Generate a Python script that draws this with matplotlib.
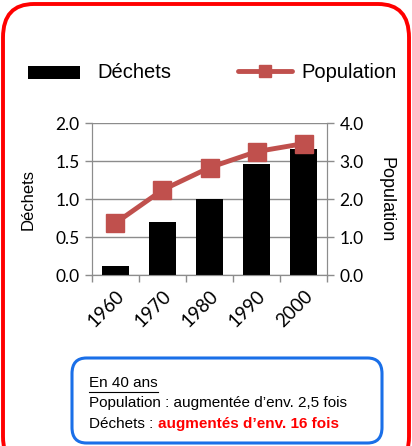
import matplotlib.pyplot as plt
from matplotlib.patches import FancyBboxPatch, Rectangle
from matplotlib.lines import Line2D

years = ['1960', '1970', '1980', '1990', '2000']
dechets = [0.12, 0.70, 1.00, 1.46, 1.66]
population = [1.37, 2.24, 2.83, 3.25, 3.46]

grey = '#8c8c8c'
red = '#c0504d'

W, H = 412, 446
fig = plt.figure(figsize=(W / 100, H / 100), dpi=100)

def fx(px):
    return px / W

def fy(py):
    return 1 - py / H

# red rounded frame (bottom runs off the picture)
fig.patches.append(FancyBboxPatch((fx(3), fy(470)), fx(406), 466 / H, transform=fig.transFigure,
                                  boxstyle='round,pad=0,rounding_size=0.075',
                                  fc='none', ec='red', lw=2.8, clip_on=False))

ax = fig.add_axes([0.223, 0.383, 0.571, 0.341])
x = range(len(years))
ax.bar(x, dechets, width=0.58, color='black', zorder=3)
ax.set_xlim(-0.5, 4.5)
ax.set_ylim(0, 2.0)
ax.set_yticks([0, 0.5, 1.0, 1.5, 2.0])
ax.set_yticklabels(['0.0', '0.5', '1.0', '1.5', '2.0'], fontfamily='Lato', fontsize=12.5)
ax.grid(axis='y', color=grey, lw=1, zorder=0)
ax.set_xticks(list(x))
ax.set_xticklabels(years, rotation=45, ha='right', va='top', rotation_mode='anchor',
                   fontfamily='Lato', fontsize=13.5)
ax.set_xticks([-0.5, 0.5, 1.5, 2.5, 3.5, 4.5], minor=True)
ax.tick_params(axis='x', which='major', length=0, pad=9)
ax.tick_params(axis='x', which='minor', length=5, color=grey, width=1)
ax.tick_params(axis='y', length=5, color=grey, width=1, pad=4)
for s in ax.spines.values():
    s.set_color(grey)
ax.spines['top'].set_visible(False)
ax.set_ylabel('Déchets', fontfamily='Liberation Sans', fontsize=12, labelpad=14)

ax2 = ax.twinx()
ax2.plot(list(x), population, color=red, lw=3.5, marker='s', markersize=13, zorder=4)
ax2.set_ylim(0, 4.0)
ax2.set_yticks([0, 1, 2, 3, 4])
ax2.set_yticklabels(['0.0', '1.0', '2.0', '3.0', '4.0'], fontfamily='Lato', fontsize=12.5)
ax2.tick_params(axis='y', length=5, color=grey, width=1, pad=4)
for s in ax2.spines.values():
    s.set_color(grey)
ax2.spines['top'].set_visible(False)
ax2.set_ylabel('Population', fontfamily='Liberation Sans', fontsize=13, rotation=270, labelpad=22)

# legend
fig.patches.append(Rectangle((fx(28), fy(79)), 52 / W, 13 / H,
                             transform=fig.transFigure, fc='black', ec='none'))
fig.text(fx(97), fy(72), 'Déchets', fontfamily='Liberation Sans', fontsize=14.5, va='center')
fig.lines.append(Line2D([fx(238), fx(265), fx(292)], [fy(71)] * 3,
                        transform=fig.transFigure, color=red, lw=3.5, marker='s',
                        markersize=9, markevery=[1], solid_capstyle='round'))
fig.text(fx(301), fy(72), 'Population', fontfamily='Liberation Sans', fontsize=14.5, va='center')

# blue note box
fig.patches.append(FancyBboxPatch((fx(72), fy(443)), 310 / W, 85 / H,
                                  transform=fig.transFigure,
                                  boxstyle='round,pad=0,rounding_size=0.035',
                                  fc='white', ec='#1a6fe8', lw=2.2))
fs = 11
r = fig.canvas.get_renderer()
t0 = fig.text(fx(89), fy(383), 'En 40 ans', fontfamily='Liberation Sans', fontsize=fs, va='center')
b0 = t0.get_window_extent(renderer=r)
fig.lines.append(Line2D([fx(89), b0.x1 / W], [fy(392)] * 2,
                        transform=fig.transFigure, color='black', lw=0.8))
fig.text(fx(89), fy(403), 'Population : augmentée d\u2019env. 2,5 fois',
         fontfamily='Liberation Sans', fontsize=fs, va='center')
t = fig.text(fx(89), fy(424), 'Déchets : ', fontfamily='Liberation Sans',
             fontsize=fs, va='center')
bb = t.get_window_extent(renderer=r)
fig.text(bb.x1 / W, fy(424), 'augmentés d\u2019env. 16 fois', fontfamily='Liberation Sans',
         fontsize=fs, va='center', color='red', fontweight='bold')

fig.savefig('out.png', dpi=100)
